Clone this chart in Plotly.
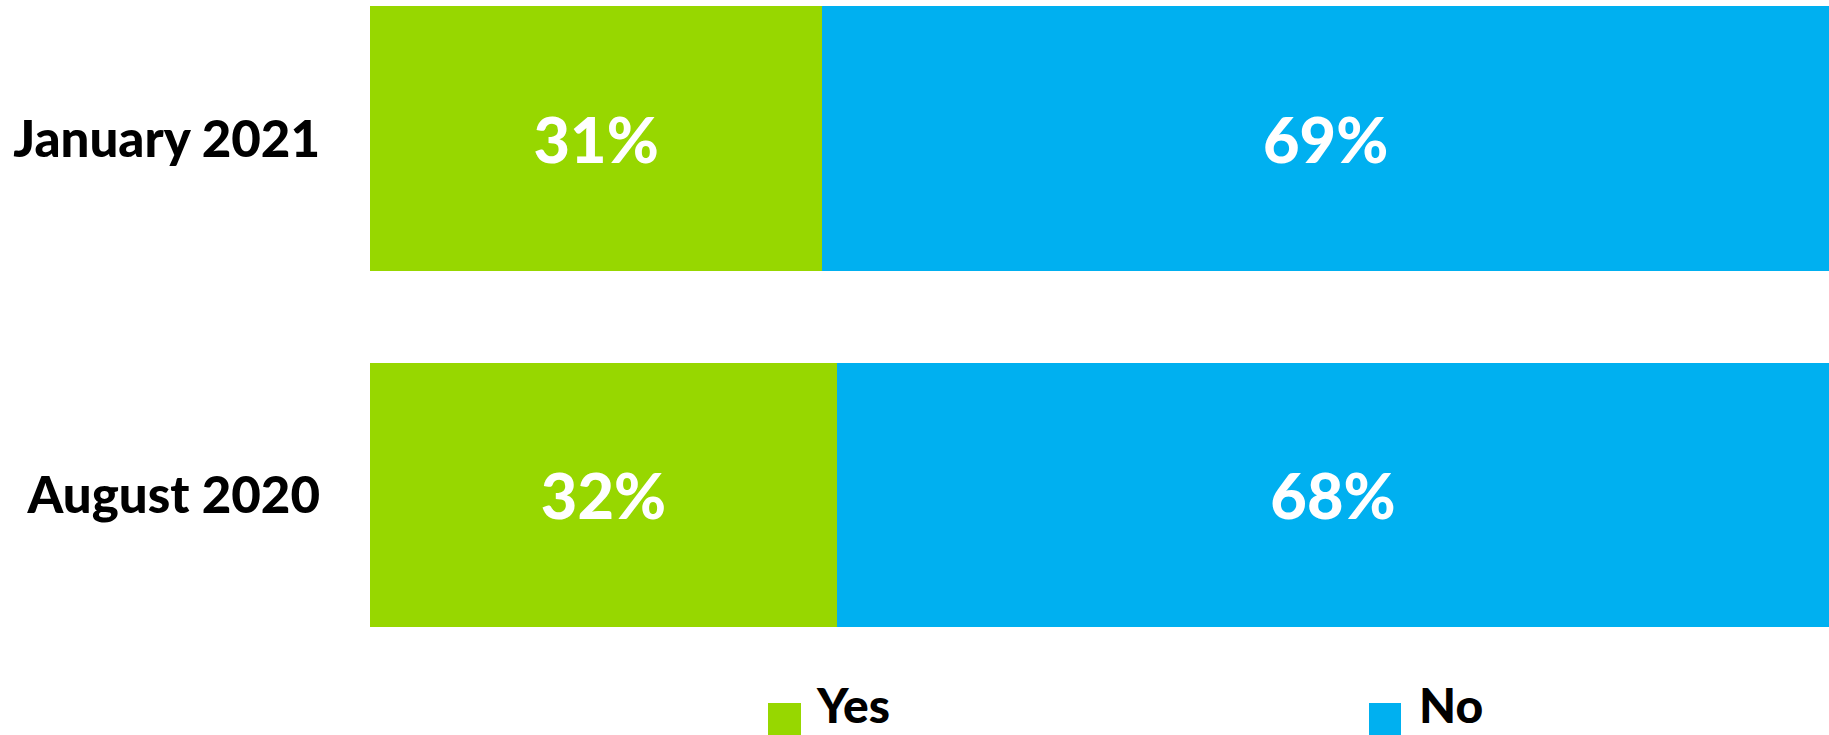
import plotly.graph_objects as go

# Survey waves (bottom to top) and answer shares in percent
periods = ["August 2020", "January 2021"]
yes_share = [32, 31]
no_share = [68, 69]
series_names = ["Yes", "No"]
series_colors = ["#97D700", "#00B0F0"]

W, H = 1829, 735
ML = 370
FONT = "Lato"

fig = go.Figure()
for name, vals, color in zip(series_names, [yes_share, no_share], series_colors):
    fig.add_trace(go.Bar(
        y=periods,
        x=vals,
        name=name,
        orientation="h",
        marker=dict(color=color, line=dict(width=0)),
        text=[f"{v}%" for v in vals],
        textposition="inside",
        insidetextanchor="middle",
        textfont=dict(family=FONT, size=63, color="white", weight=900),
        constraintext="none",
        showlegend=False,
        hoverinfo="skip",
    ))

# Custom legend: large colour squares with bold labels
legend_items = [(768, 801, 815), (1369, 1401, 1418)]
def px_x(px):
    return (px - ML) / (W - ML)
def px_y(py):
    return 1 - py / H

shapes = []
annotations = []
for (x0, x1, tx), name, color in zip(legend_items, series_names, series_colors):
    shapes.append(dict(type="rect", xref="paper", yref="paper",
                       x0=px_x(x0), x1=px_x(x1), y0=px_y(737), y1=px_y(703),
                       fillcolor=color, line=dict(width=0)))
    annotations.append(dict(xref="paper", yref="paper", x=px_x(tx), y=px_y(734),
                            xanchor="left", yanchor="bottom", showarrow=False,
                            borderpad=0,
                            text=name, font=dict(family=FONT, size=48, color="black", weight=900)))

fig.update_layout(
    width=W, height=H,
    margin=dict(l=ML, r=0, t=0, b=0),
    paper_bgcolor="white",
    plot_bgcolor="white",
    barmode="stack",
    bargap=0.256,
    xaxis=dict(range=[0, 100], visible=False, fixedrange=True),
    yaxis=dict(
        categoryorder="array", categoryarray=periods,
        range=[-0.674, 1.390],
        showgrid=False, zeroline=False, showline=False, ticks="",
        ticklabelstandoff=49,
        tickfont=dict(family=FONT, size=51, color="black", weight=900),
    ),
    shapes=shapes,
    annotations=annotations,
)

fig.write_html("out.html")
